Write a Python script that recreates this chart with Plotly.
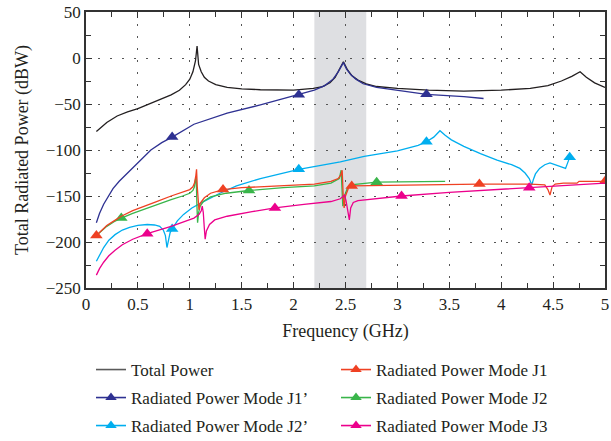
import plotly.graph_objects as go

# ---------------- data ----------------
total_x = [0.10, 0.15, 0.20, 0.30, 0.40, 0.50, 0.60, 0.72, 0.82, 0.90, 0.96, 1.00, 1.03, 1.055, 1.07, 1.085, 1.11, 1.14, 1.18, 1.25, 1.36, 1.50, 1.68, 2.00, 2.19, 2.28, 2.35, 2.40, 2.44, 2.48, 2.52, 2.56, 2.62, 2.70, 2.80, 3.00, 3.30, 3.64, 4.00, 4.28, 4.45, 4.58, 4.68, 4.76, 4.82, 4.90, 5.00]
total_y = [-80, -75, -70, -63, -58.5, -55, -50.5, -45, -40, -35, -29, -23, -15, -3, 13, -7, -15, -21, -25, -29, -32, -33.5, -34.5, -35, -33, -31, -27, -21, -13, -4, -13, -19, -24, -28, -31, -33, -35, -36, -35, -33, -30, -25, -20, -15, -21, -27, -32]

j1p_x = [0.10, 0.13, 0.17, 0.21, 0.26, 0.32, 0.40, 0.50, 0.625, 0.73, 0.83, 1.04, 1.36, 1.68, 2.05, 2.20, 2.30, 2.38, 2.43, 2.46, 2.48, 2.51, 2.55, 2.60, 2.67, 2.80, 3.00, 3.28, 3.64, 3.83]
j1p_y = [-179, -169, -159, -151, -142, -134, -125, -113, -100, -92, -86, -72, -60, -51, -40, -35, -30, -23, -15, -9, -5, -12, -18, -23, -28, -32, -35, -39.5, -42, -44]
j1p_mx = [0.83, 2.05, 3.28]
j1p_my = [-86, -40, -39.5]

j2p_x = [0.10, 0.13, 0.17, 0.22, 0.28, 0.35, 0.42, 0.50, 0.59, 0.66, 0.71, 0.745, 0.765, 0.78, 0.795, 0.81, 0.83, 0.88, 0.94, 1.02, 1.10, 1.20, 1.29, 1.45, 1.68, 2.05, 2.45, 2.68, 3.00, 3.20, 3.28, 3.35, 3.41, 3.46, 3.52, 3.64, 3.80, 3.96, 4.10, 4.18, 4.23, 4.27, 4.295, 4.31, 4.33, 4.37, 4.42, 4.47, 4.55, 4.62, 4.64, 4.66]
j2p_y = [-221, -214, -206, -198, -192, -187, -184, -182, -181, -181.5, -183, -187, -193, -206, -197, -190, -186, -177, -170, -163, -158, -152, -147, -139, -131, -121, -113, -107, -101, -95, -91, -86, -79, -84, -89, -96, -104, -111, -116, -120, -125, -131, -138, -132, -126, -120, -116, -114, -117, -120, -114, -108]
j2p_mx = [0.83, 2.05, 3.28, 4.66]
j2p_my = [-186, -121, -91, -108]

j1_x = [0.10, 0.15, 0.20, 0.27, 0.34, 0.45, 0.55, 0.68, 0.82, 0.93, 1.00, 1.03, 1.045, 1.058, 1.065, 1.072, 1.08, 1.088, 1.10, 1.14, 1.20, 1.32, 1.50, 1.68, 2.00, 2.20, 2.36, 2.43, 2.455, 2.468, 2.478, 2.487, 2.50, 2.53, 2.56, 3.00, 3.79, 4.28, 4.42, 4.45, 4.47, 4.49, 4.52, 4.60, 4.73, 4.75, 5.00]
j1_y = [-193, -187, -182, -177, -172, -166, -162, -156, -150, -146, -143, -140, -136, -128, -121, -140, -160, -165, -158, -152, -147, -143, -141, -140, -138.5, -137, -134, -131, -127, -122, -150, -163, -150, -141, -139, -138, -137, -137, -138, -143, -149, -140, -137, -136, -136, -134, -134]
j1_mx = [0.10, 1.32, 2.56, 3.79, 5.00]
j1_my = [-193, -143, -139, -137, -134]

j2_x = [0.10, 0.15, 0.20, 0.27, 0.34, 0.45, 0.55, 0.68, 0.82, 0.93, 1.00, 1.03, 1.045, 1.055, 1.062, 1.068, 1.075, 1.085, 1.10, 1.13, 1.20, 1.35, 1.57, 1.90, 2.20, 2.36, 2.44, 2.458, 2.466, 2.474, 2.49, 2.52, 2.55, 2.80, 3.46]
j2_y = [-193, -188, -183, -178, -174, -169, -165, -159, -154, -150, -147, -144, -140, -132, -130, -158, -179, -168, -161, -156, -151, -147, -144, -141, -139, -136, -131, -122, -145, -161, -150, -141, -138, -135, -134]
j2_mx = [0.34, 1.57, 2.80]
j2_my = [-174, -144, -135]

j3_x = [0.10, 0.13, 0.17, 0.22, 0.28, 0.35, 0.45, 0.59, 0.82, 1.04, 1.09, 1.11, 1.12, 1.13, 1.14, 1.148, 1.16, 1.19, 1.24, 1.36, 1.60, 1.82, 2.10, 2.36, 2.45, 2.49, 2.505, 2.52, 2.537, 2.55, 2.575, 2.62, 2.80, 3.04, 3.50, 4.27, 5.00]
j3_y = [-236, -229, -222, -215, -209, -203, -197, -191, -183, -174, -170, -166, -161, -168, -185, -197, -188, -181, -176, -172, -167, -163, -159, -156, -153, -149, -155, -165, -176, -163, -157, -155, -153, -150, -146, -141, -136]
j3_mx = [0.59, 1.82, 3.04, 4.27]
j3_my = [-191, -163, -150, -141]

x_ticks = [0, 0.5, 1, 1.5, 2, 2.5, 3, 3.5, 4, 4.5, 5]
y_ticks = [50, 0, -50, -100, -150, -200, -250]
band = [2.2, 2.7]

# ---------------- styles ----------------
FONT = "Liberation Serif, Times New Roman, Times, serif"
TXT = "#231f20"
W, H = 611, 441
series = [
    # name, x, y, marker x, marker y, color, legend id
    ("Total Power", total_x, total_y, None, None, "#231f20", "legend"),
    ("Radiated Power Mode J1", j1_x, j1_y, j1_mx, j1_my, "#ef4123", "legend"),
    ("Radiated Power Mode J1\u2019", j1p_x, j1p_y, j1p_mx, j1p_my, "#2e3192", "legend2"),
    ("Radiated Power Mode J2", j2_x, j2_y, j2_mx, j2_my, "#39b54a", "legend2"),
    ("Radiated Power Mode J2\u2019", j2p_x, j2p_y, j2p_mx, j2p_my, "#00aeef", "legend3"),
    ("Radiated Power Mode J3", j3_x, j3_y, j3_mx, j3_my, "#ec008c", "legend3"),
]

fig = go.Figure()
draw_order = [0, 2, 4, 3, 1, 5]
for i in draw_order:
    name, xs, ys, mx, my, col, lg = series[i]
    fig.add_trace(go.Scatter(x=xs, y=ys, mode="lines", line=dict(color=col, width=1.3),
                             showlegend=False, hoverinfo="skip"))
    if mx is not None:
        fig.add_trace(go.Scatter(x=mx, y=my, mode="markers",
                                 marker=dict(symbol="triangle-up", size=11, color=col),
                                 showlegend=False, hoverinfo="skip"))

# legend entries: three one-row legends, two columns each
for name, xs, ys, mx, my, col, lg in series:
    if mx is None:
        fig.add_trace(go.Scatter(x=[None], y=[None], mode="lines", name=name, legend=lg,
                                 line=dict(color="#5a5a5a", width=1.6)))
    else:
        fig.add_trace(go.Scatter(x=[None], y=[None], mode="lines+markers", name=name, legend=lg,
                                 line=dict(color=col, width=1.6),
                                 marker=dict(symbol="triangle-up", size=10, color=col)))

fig.add_shape(type="rect", xref="x", yref="paper", x0=band[0], x1=band[1], y0=0, y1=1,
              fillcolor="#dedfe2", line=dict(width=0), layer="below")

axis_common = dict(
    showline=True, linecolor="#333333", linewidth=1.5, mirror="ticks",
    ticks="inside", ticklen=6, tickwidth=1.3, tickcolor="#333333",
    showgrid=True, gridcolor="#555555", gridwidth=1.3, griddash="1.5px,10.5px",
    zeroline=False, automargin=False,
    tickfont=dict(family=FONT, size=17, color=TXT),
)

fig.update_xaxes(range=[0, 5], tickmode="array", tickvals=x_ticks,
                 ticktext=[f"{v:g}" for v in x_ticks],
                 minor=dict(dtick=0.25, ticks="inside", ticklen=5, tickcolor="#333333", tickwidth=1.3, showgrid=False),
                 title=dict(text="Frequency (GHz)", font=dict(family=FONT, size=18, color=TXT), standoff=11),
                 **axis_common)
fig.update_yaxes(range=[-250, 50], tickmode="array", tickvals=y_ticks,
                 minor=dict(dtick=25, ticks="inside", ticklen=5, tickcolor="#333333", tickwidth=1.3, showgrid=False),
                 title=dict(text="Total Radiated Power (dBW)", font=dict(family=FONT, size=18, color=TXT), standoff=12),
                 **axis_common)

leg_common = dict(orientation="h", xanchor="left", yanchor="middle",
                  xref="container", yref="container",
                  entrywidth=200, entrywidthmode="pixels",
                  font=dict(family=FONT, size=17, color=TXT),
                  bgcolor="rgba(0,0,0,0)")
LEG_X = 91 / W

fig.update_layout(
    width=W, height=H,
    margin=dict(l=86, r=6, t=12, b=153, autoexpand=False),
    paper_bgcolor="white", plot_bgcolor="white",
    font=dict(family=FONT, color=TXT),
    legend=dict(x=LEG_X, y=1 - 370 / H, **leg_common),
    legend2=dict(x=LEG_X, y=1 - 398 / H, **leg_common),
    legend3=dict(x=LEG_X, y=1 - 426 / H, **leg_common),
)

fig.write_html("out.html")
